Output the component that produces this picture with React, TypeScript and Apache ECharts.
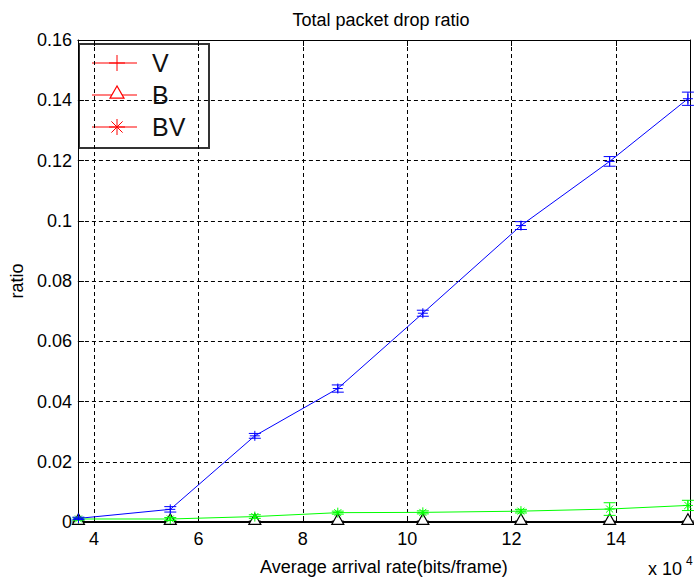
import React, { useEffect, useRef } from "react";
import * as echarts from "echarts";

// ---- data ----
const xValues = [37000, 54600, 70800, 86700, 103000, 121800, 138800, 153800];
const vValues = [0.0012, 0.0042, 0.0286, 0.0443, 0.0693, 0.0984, 0.1197, 0.1405];
const vErrors = [0.0004, 0.0009, 0.0008, 0.0012, 0.001, 0.0013, 0.0016, 0.0022];
const bValues = [0.0001, 0.0001, 0.0001, 0.0001, 0.0001, 0.0001, 0.0001, 0.0001];
const bErrors = [0.0002, 0.0002, 0.0002, 0.0002, 0.0002, 0.0002, 0.0002, 0.0002];
const bvValues = [0.001, 0.001, 0.0018, 0.0031, 0.0032, 0.0036, 0.0043, 0.0055];
const bvErrors = [0.0004, 0.0005, 0.0006, 0.0005, 0.0005, 0.0006, 0.0021, 0.0017];
const xTicks = [40000, 60000, 80000, 100000, 120000, 140000];
const xMin = 36900;
const xMax = 154200;
const yMin = 0;
const yMax = 0.16;
const yStep = 0.02;
const legendNames = ["V", "B", "BV"];

const FONT = "Liberation Sans, Arial, sans-serif";

function markerShapes(marker: string, x: number, y: number, color: string, s: number) {
  const st = { stroke: color, lineWidth: 1, fill: null as any };
  const out: any[] = [];
  if (marker === "plus" || marker === "star") {
    out.push({ type: "line", shape: { x1: x - s, y1: y, x2: x + s, y2: y }, style: st });
    out.push({ type: "line", shape: { x1: x, y1: y - s, x2: x, y2: y + s }, style: st });
  }
  if (marker === "star") {
    const d = s * 0.7;
    out.push({ type: "line", shape: { x1: x - d, y1: y - d, x2: x + d, y2: y + d }, style: st });
    out.push({ type: "line", shape: { x1: x - d, y1: y + d, x2: x + d, y2: y - d }, style: st });
  }
  if (marker === "triangle") {
    out.push({
      type: "polygon",
      shape: { points: [[x, y - s - 2], [x - s, y + s * 0.45], [x + s, y + s * 0.45]] },
      style: { stroke: color, lineWidth: 1.2, fill: "#fff" },
    });
  }
  return out;
}

function errorSeries(name: string, values: number[], errors: number[], color: string, marker: string, z: number, ms: number) {
  return {
    type: "custom",
    name,
    clip: false,
    silent: true,
    z,
    data: xValues.map((x, i) => [x, values[i], errors[i]]),
    encode: { x: 0, y: 1 },
    renderItem: (_params: any, api: any) => {
      const x = api.value(0);
      const y = api.value(1);
      const e = api.value(2);
      const c = api.coord([x, y]);
      const t = api.coord([x, y + e]);
      const b = api.coord([x, y - e]);
      const cap = 6;
      const st = { stroke: color, lineWidth: 1, fill: null as any };
      return {
        type: "group",
        children: [
          { type: "line", shape: { x1: c[0], y1: t[1], x2: c[0], y2: b[1] }, style: st },
          { type: "line", shape: { x1: c[0] - cap, y1: t[1], x2: c[0] + cap, y2: t[1] }, style: st },
          { type: "line", shape: { x1: c[0] - cap, y1: b[1], x2: c[0] + cap, y2: b[1] }, style: st },
          ...markerShapes(marker, c[0], c[1], color, ms),
        ],
      };
    },
  };
}

function lineSeries(name: string, values: number[], color: string, z: number, width: number) {
  return {
    type: "line",
    name,
    z,
    silent: true,
    showSymbol: false,
    data: xValues.map((x, i) => [x, values[i]]),
    lineStyle: { color, width },
    itemStyle: { color },
  };
}

function legendGraphics() {
  const red = "#ff0000";
  const ys = [63, 95, 127];
  const markers = ["plus", "triangle", "star"];
  const children: any[] = [
    {
      type: "rect",
      shape: { x: 79, y: 44, width: 130, height: 104 },
      style: { fill: "#fff", stroke: "#333", lineWidth: 2 },
    },
  ];
  legendNames.forEach((n, i) => {
    const y = ys[i];
    children.push({ type: "line", shape: { x1: 92, y1: y, x2: 137, y2: y }, style: { stroke: red, lineWidth: 1.2 } });
    children.push(...markerShapes(markers[i], 117, y, red, markers[i] === "triangle" ? 7 : 8));
    children.push({
      type: "text",
      style: { x: 152, y: y, text: n, font: `25px ${FONT}`, fill: "#111", verticalAlign: "middle", align: "left" },
    });
  });
  return { type: "group", z: 100, children };
}

export default function App() {
  const ref = useRef<HTMLDivElement>(null);
  useEffect(() => {
    if (!ref.current) return;
    const chart = echarts.init(ref.current, null, { renderer: "svg" });
    const axisLine = { show: true, onZero: false, lineStyle: { color: "#000", width: 1 } };
    const labelStyle = { color: "#000", fontSize: 18, fontFamily: FONT };
    const gridLine = { show: true, lineStyle: { type: [4, 3], color: "#000", width: 1 } };
    chart.setOption({
      animation: false,
      backgroundColor: "#fff",
      grid: { left: 73, right: 4, top: 40, bottom: 59, containLabel: false },
      xAxis: [
        {
          type: "value",
          min: xMin,
          max: xMax,
          position: "bottom",
          axisLine,
          axisTick: { show: true, inside: true, length: 6, customValues: xTicks, lineStyle: { color: "#000" } },
          axisLabel: { ...labelStyle, customValues: xTicks, margin: 8, formatter: (v: number) => String(v / 10000) },
          splitLine: gridLine,
          name: "Average arrival rate(bits/frame)",
          nameLocation: "middle",
          nameGap: 36,
          nameTextStyle: { ...labelStyle },
        },
        {
          type: "value",
          min: xMin,
          max: xMax,
          position: "top",
          axisLine,
          axisTick: { show: true, inside: true, length: 6, customValues: xTicks, lineStyle: { color: "#000" } },
          axisLabel: { show: false },
          splitLine: { show: false },
        },
      ],
      yAxis: [
        {
          type: "value",
          min: yMin,
          max: yMax,
          interval: yStep,
          position: "left",
          axisLine,
          axisTick: { show: true, inside: true, length: 6, lineStyle: { color: "#000" } },
          axisLabel: { ...labelStyle, margin: 6, formatter: (v: number) => String(Math.round(v * 100) / 100) },
          splitLine: gridLine,
          name: "ratio",
          nameLocation: "middle",
          nameRotate: 90,
          nameGap: 46,
          nameTextStyle: { ...labelStyle },
        },
        {
          type: "value",
          min: yMin,
          max: yMax,
          interval: yStep,
          position: "right",
          axisLine,
          axisTick: { show: true, inside: true, length: 6, lineStyle: { color: "#000" } },
          axisLabel: { show: false },
          splitLine: { show: false },
        },
      ],
      graphic: [
        {
          type: "text",
          z: 100,
          style: { x: 381, y: 20, text: "Total packet drop ratio", font: `18px ${FONT}`, fill: "#000", align: "center", verticalAlign: "middle" },
        },
        {
          type: "text",
          z: 100,
          style: { x: 648, y: 569, text: "x 10", font: `18px ${FONT}`, fill: "#000", align: "left", verticalAlign: "middle" },
        },
        {
          type: "text",
          z: 100,
          style: { x: 686, y: 561, text: "4", font: `12px ${FONT}`, fill: "#000", align: "left", verticalAlign: "middle" },
        },
        legendGraphics(),
      ],
      series: [
        lineSeries("B", bValues, "#000000", 3, 1.5),
        lineSeries("BV", bvValues, "#00ff00", 4, 1),
        lineSeries("V", vValues, "#0000ff", 5, 1),
        errorSeries("B err", bValues, bErrors, "#000000", "triangle", 6, 6),
        errorSeries("BV err", bvValues, bvErrors, "#00ff00", "star", 7, 5),
        errorSeries("V err", vValues, vErrors, "#0000ff", "plus", 8, 5),
      ],
    });
    return () => chart.dispose();
  }, []);
  return (
    <div
      ref={ref}
      style={{ position: "fixed", left: 0, top: 0, width: 694, height: 581, background: "#fff" }}
    />
  );
}
